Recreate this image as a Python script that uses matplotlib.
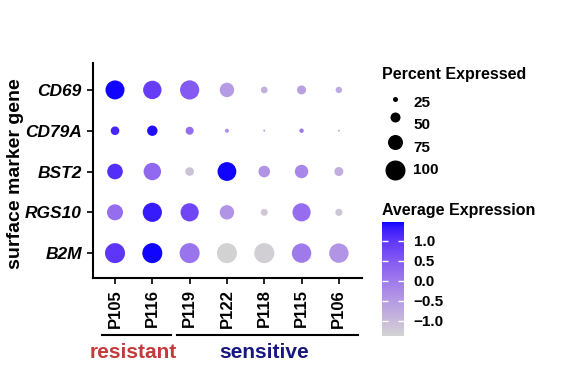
import matplotlib
matplotlib.use("Agg")
import matplotlib.pyplot as plt
import matplotlib.transforms as mtransforms
from matplotlib.colors import ListedColormap, to_rgb
import numpy as np

plt.rcParams['font.family'] = ['Liberation Sans', 'DejaVu Sans']
plt.rcParams['font.weight'] = 'bold'

# Data
samples = ['P105', 'P116', 'P119', 'P122', 'P118', 'P115', 'P106']
genes = ['B2M', 'RGS10', 'BST2', 'CD79A', 'CD69']   # bottom to top
pct_expressed = {
    'CD69':  [95, 92, 96, 72, 34, 45, 32],
    'CD79A': [43, 52, 40, 20, 10, 22, 9],
    'BST2':  [78, 87, 43, 94, 58, 67, 45],
    'RGS10': [80, 96, 91, 72, 35, 91, 36],
    'B2M':   [100, 100, 100, 100, 100, 97, 97],
}
avg_expression = {
    'CD69':  [1.45, 0.9, 0.5, -0.5, -0.85, -0.6, -0.75],
    'CD79A': [1.2, 1.4, 0.2, -0.3, -0.6, 0.0, -0.5],
    'BST2':  [1.1, 0.3, -1.1, 1.45, -0.4, -0.2, -0.8],
    'RGS10': [0.2, 1.3, 0.8, -0.4, -1.2, 0.2, -1.2],
    'B2M':   [1.0, 1.45, 0.1, -1.35, -1.3, 0.0, -0.4],
}
groups = ['resistant', 'sensitive']
group_members = {'resistant': ['P105', 'P116'],
                 'sensitive': ['P119', 'P122', 'P118', 'P115', 'P106']}
group_colors = {'resistant': '#c43a3c', 'sensitive': '#17177f'}
size_legend = [25, 50, 75, 100]
color_ticks = [1.0, 0.5, 0.0, -0.5, -1.0]
vmin, vmax = -1.375, 1.475


# lightgrey -> blue gradient interpolated in Lab space (like ggplot)
def srgb_to_lab(c):
    c = np.asarray(c, float)
    lin = np.where(c <= 0.04045, c / 12.92, ((c + 0.055) / 1.055) ** 2.4)
    m = np.array([[0.4124, 0.3576, 0.1805],
                  [0.2126, 0.7152, 0.0722],
                  [0.0193, 0.1192, 0.9505]])
    xyz = m @ lin / np.array([0.95047, 1.0, 1.08883])
    f = np.where(xyz > 0.008856, np.cbrt(xyz), 7.787 * xyz + 16 / 116)
    return np.array([116 * f[1] - 16, 500 * (f[0] - f[1]), 200 * (f[1] - f[2])])


def lab_to_srgb(lab):
    L, a, b = lab
    fy = (L + 16) / 116
    f = np.array([fy + a / 500, fy, fy - b / 200])
    xyz = np.where(f ** 3 > 0.008856, f ** 3, (f - 16 / 116) / 7.787)
    xyz = xyz * np.array([0.95047, 1.0, 1.08883])
    minv = np.array([[3.2406, -1.5372, -0.4986],
                     [-0.9689, 1.8758, 0.0415],
                     [0.0557, -0.2040, 1.0570]])
    lin = np.clip(minv @ xyz, 0, 1)
    c = np.where(lin <= 0.0031308, 12.92 * lin, 1.055 * lin ** (1 / 2.4) - 0.055)
    return np.clip(c, 0, 1)


lab_lo = srgb_to_lab(to_rgb('lightgrey'))
lab_hi = srgb_to_lab(to_rgb('blue'))
cmap = ListedColormap([lab_to_srgb(lab_lo + t * (lab_hi - lab_lo))
                       for t in np.linspace(0, 1, 256)])


def dot_size(p):
    # diameter ~ percent / 5 px, scatter size in pt^2 at 100 dpi
    return (p / 5.0 * 0.72) ** 2


fig = plt.figure(figsize=(5.63, 3.76), dpi=100)
ax = fig.add_axes([93 / 563, 1 - 278 / 376, 269 / 563, 215 / 376])

xs, ys, ss, cs = [], [], [], []
for gi, g in enumerate(genes):
    for si in range(len(samples)):
        xs.append(si + 1)
        ys.append(gi + 1)
        ss.append(dot_size(pct_expressed[g][si]))
        cs.append(avg_expression[g][si])
sc = ax.scatter(xs, ys, s=ss, c=cs, cmap=cmap, vmin=vmin, vmax=vmax,
                linewidths=0, zorder=3)

ax.set_xlim(0.41, 7.62)
ax.set_ylim(0.39, 5.66)
ax.set_xticks(range(1, len(samples) + 1))
ax.set_xticklabels(samples, rotation=90, fontsize=12, fontweight='bold')
ax.set_yticks(range(1, len(genes) + 1))
ax.set_yticklabels(genes, fontsize=12.5, fontweight='bold', fontstyle='italic')
ax.tick_params(length=4, width=1.2, pad=4)
for side in ['top', 'right']:
    ax.spines[side].set_visible(False)
for side in ['left', 'bottom']:
    ax.spines[side].set_linewidth(1.5)
ax.set_ylabel('surface marker gene', fontsize=14, fontweight='bold', labelpad=6)
ax.yaxis.set_label_coords(-0.255, 0.485)

# group brackets under the sample labels
trans = mtransforms.blended_transform_factory(ax.transData, fig.transFigure)
for g in groups:
    idx = [samples.index(s) + 1 for s in group_members[g]]
    x0, x1 = min(idx) - 0.35, max(idx) + 0.5
    fig.add_artist(plt.Line2D([x0, x1], [1 - 335 / 376] * 2, transform=trans,
                              color='black', linewidth=1.5))
    fig.text((x0 + x1) / 2 - 0.08, 1 - 353 / 376, g, transform=trans, ha='center',
             va='center', fontsize=15, fontweight='bold', color=group_colors[g])

# size legend
lax = fig.add_axes([0, 0, 1, 1])
lax.set_xlim(0, 563)
lax.set_ylim(376, 0)
lax.axis('off')
lax.text(382, 75, 'Percent Expressed', fontsize=11.5, fontweight='bold',
         va='center', ha='left')
dot_y = [99, 117, 142, 170]
lab_y = [103, 125, 148, 170]
for v, dy, ly in zip(size_legend, dot_y, lab_y):
    lax.scatter([395], [dy], s=dot_size(v), color='black', linewidths=0)
    lax.text(413, ly, str(v), fontsize=11, fontweight='bold', va='center')

# colour legend
lax.text(382, 210, 'Average Expression', fontsize=11.5, fontweight='bold',
         va='center', ha='left')
cax = fig.add_axes([382 / 563, 1 - 336 / 376, 22 / 563, 114 / 376])
cb = fig.colorbar(sc, cax=cax)
cb.outline.set_visible(False)
cb.set_ticks(color_ticks)
cb.ax.yaxis.set_ticks_position('both')
cb.ax.tick_params(which='both', direction='in', colors='white', length=4,
                  width=1, labelcolor='black', labelsize=11, pad=7,
                  labelleft=False, labelright=True)
for t in cb.ax.get_yticklabels():
    t.set_fontweight('bold')

fig.savefig('out.png', dpi=100)
